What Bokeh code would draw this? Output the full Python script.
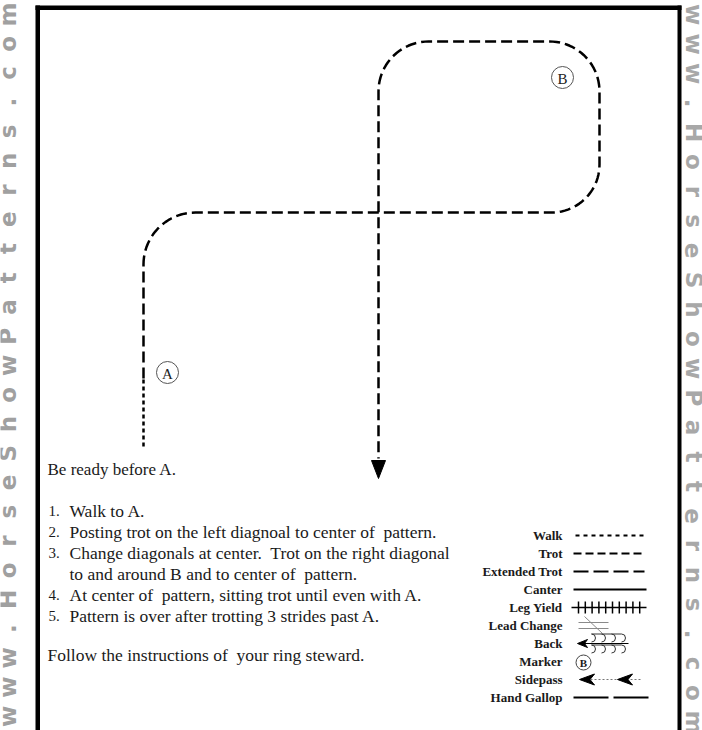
import numpy as np
from bokeh.plotting import figure
from bokeh.models import Range1d
from bokeh.core.properties import value
from bokeh.embed import file_html
from bokeh.resources import INLINE

# ---------------- data ----------------
watermark = "www.HorseShowPatterns.com"

walk_x = [143, 143]
walk_y = [446, 378]
trot_x = [143, 143, 599, 599, 378, 378]
trot_y = [378, 212, 212, 41, 41, 458]
corner_radii = [52, 48, 50, 50]

marker_labels = ["A", "B"]
marker_x = [167, 562]
marker_y = [372, 77]

NB = "\u00a0"
intro = "Be ready before A."
step_numbers = ["1.", "2.", "3.", "", "4.", "5."]
step_texts = [
    "Walk to A.",
    "Posting trot on the left diagnoal to center of" + NB + " pattern.",
    "Change diagonals at center." + NB + " Trot on the right diagonal",
    "to and around B and to center of" + NB + " pattern.",
    "At center of" + NB + " pattern, sitting trot until even with A.",
    "Pattern is over after trotting 3 strides past A.",
]
closing = "Follow the instructions of" + NB + " your ring steward."

legend_labels = ["Walk", "Trot", "Extended Trot", "Canter", "Leg Yield",
                 "Lead Change", "Back", "Marker", "Sidepass", "Hand Gallop"]

# ---------------- helpers ----------------
def rounded_path(xs, ys, radii, n=24):
    P = np.column_stack([xs, ys]).astype(float)
    out = [P[0]]
    for i in range(1, len(P) - 1):
        a, c, b = P[i - 1], P[i], P[i + 1]
        u1 = (c - a) / np.linalg.norm(c - a)
        u2 = (b - c) / np.linalg.norm(b - c)
        r = radii[i - 1]
        t1 = c - u1 * r
        t2 = c + u2 * r
        k = 0.5523 * r
        c1 = t1 + u1 * k
        c2 = t2 - u2 * k
        t = np.linspace(0, 1, n)[:, None]
        bez = (1 - t) ** 3 * t1 + 3 * (1 - t) ** 2 * t * c1 + 3 * (1 - t) * t ** 2 * c2 + t ** 3 * t2
        out.extend(list(bez))
    out.append(P[-1])
    arr = np.array(out)
    return arr[:, 0], arr[:, 1]

def left_arrowhead(x, y, length, half):
    return [x, x + length, x + length * 0.7, x + length], [y, y - half, y, y + half]

SERIF = value("Liberation Serif")
SANS = value("DejaVu Sans")

W, H = 702, 730
p = figure(width=W, height=H, x_range=Range1d(0, W), y_range=Range1d(H, 0),
           output_backend="svg", toolbar_location=None, min_border=0)
p.axis.visible = False
p.grid.visible = False
p.outline_line_color = None
p.background_fill_color = "white"
p.border_fill_color = "white"

# ---------------- frame ----------------
p.quad(left=[35, 35, 677], right=[39.5, 681, 681], top=[5, 5, 5], bottom=[740, 9.5, 740],
       fill_color="black", line_color=None)

# ---------------- watermark ----------------
n = len(watermark)
p.text(x=[7] * n, y=list(np.linspace(716, 14, n)), text=list(watermark), angle=np.pi / 2,
       text_font=SANS, text_font_style="bold", text_font_size="23px", text_color="#a0a0a0",
       text_align="center", text_baseline="middle")
p.text(x=[693] * n, y=list(np.linspace(14, 722, n)), text=list(watermark), angle=-np.pi / 2,
       text_font=SANS, text_font_style="bold", text_font_size="23px", text_color="#a8a8a8",
       text_align="center", text_baseline="middle")

# ---------------- pattern ----------------
p.line(walk_x, walk_y, line_color="black", line_width=2.5, line_dash="4 3")
tx, ty = rounded_path(trot_x, trot_y, corner_radii)
p.line(tx, ty, line_color="black", line_width=2.5, line_dash="11 5")
ex, ey = trot_x[-1], trot_y[-1]
p.patch([ex - 7, ex + 7, ex], [ey + 2, ey + 2, ey + 20], fill_color="black", line_color="black")

p.circle(marker_x, marker_y, radius=11, fill_color="white", line_color="#555555", line_width=1)
p.text(marker_x, [v + 1 for v in marker_y], text=marker_labels, text_font=SERIF, text_font_size="15px",
       text_align="center", text_baseline="middle", text_color="#222222")

# ---------------- instructions ----------------
p.text([47], [469], text=[intro], text_font=SERIF, text_font_size="17px",
       text_baseline="alphabetic", text_color="#1a1a1a")
base = [510, 531, 552, 573, 594, 615]
p.text([48] * len(step_numbers), base, text=step_numbers, text_font=SERIF, text_font_size="15px",
       text_baseline="alphabetic", text_color="#1a1a1a")
p.text([69] * len(step_texts), base, text=step_texts, text_font=SERIF, text_font_size="17.5px",
       text_baseline="alphabetic", text_color="#1a1a1a")
p.text([47], [654], text=[closing], text_font=SERIF, text_font_size="17.5px",
       text_baseline="alphabetic", text_color="#1a1a1a")

# ---------------- legend ----------------
ly = [535 + 18 * i for i in range(len(legend_labels))]
p.text([562] * len(legend_labels), ly, text=legend_labels, text_font=SERIF, text_font_style="bold",
       text_font_size="13px", text_align="right", text_baseline="middle", text_color="#1a1a1a")
x0, x1 = 573, 646
p.line([x0 + 2, x1], [ly[0]] * 2, line_color="black", line_width=2, line_dash="4 4")
p.line([x0, x1 - 2], [ly[1]] * 2, line_color="black", line_width=2, line_dash="8 4")
p.line([x0, x1 - 2], [ly[2]] * 2, line_color="black", line_width=2, line_dash="15 5")
p.line([x0, x1], [ly[3]] * 2, line_color="black", line_width=2)
# leg yield
p.line([x0 - 2, x1], [ly[4]] * 2, line_color="black", line_width=1.5)
tk = [578 + 6.8 * k for k in range(10)]
p.segment(tk, [ly[4] - 6] * 10, tk, [ly[4] + 6] * 10, line_color="black", line_width=1.5)
# lead change
p.segment([578, 578], [ly[5] - 3, ly[5] + 3], [608, 608], [ly[5] - 3, ly[5] + 3],
          line_color="#8a8a8a", line_width=1)
p.segment([584], [ly[5] - 9], [602], [ly[5] + 8], line_color="#8a8a8a", line_width=1)
# back
p.line([580, 628], [ly[6]] * 2, line_color="black", line_width=1)
ax, ay = left_arrowhead(577, ly[6], 10, 4)
p.patch(ax, ay, fill_color="black", line_color="black")
cx = [591 + 10 * k for k in range(4)]
p.arc(cx, [ly[6] - 5.5] * 4, radius=4, start_angle=-np.pi / 2, end_angle=np.pi / 2,
      line_color="#333333", line_width=1)
p.arc(cx, [ly[6] + 5.5] * 4, radius=4, start_angle=-np.pi / 2, end_angle=np.pi / 2,
      line_color="#333333", line_width=1)
p.segment([591] * 2, [ly[6] - 9.5, ly[6] + 1.5], [621] * 2, [ly[6] - 9.5, ly[6] + 1.5],
          line_color="#333333", line_width=1)
# marker
p.circle([583], [ly[7] + 1], radius=7.5, fill_color="white", line_color="#444444", line_width=1)
p.text([583], [ly[7] + 1.5], text=["B"], text_font=SERIF, text_font_style="bold", text_font_size="11px",
       text_align="center", text_baseline="middle", text_color="#1a1a1a")
# sidepass
p.line([582, 640], [ly[8]] * 2, line_color="#777777", line_width=1, line_dash="2 2")
for sx in (579, 617):
    sxs, sys_ = left_arrowhead(sx, ly[8], 15, 5.5)
    p.patch(sxs, sys_, fill_color="black", line_color="black")
# hand gallop
p.segment([573, 613], [ly[9]] * 2, [608, 648], [ly[9]] * 2, line_color="black", line_width=2)

open("out.html", "w").write(file_html(p, INLINE))
